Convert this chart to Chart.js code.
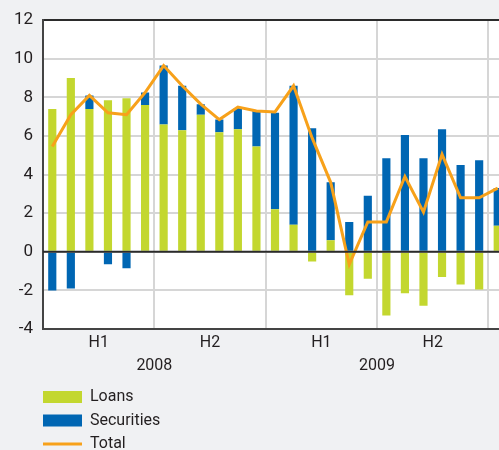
<!DOCTYPE html>
<html>
<head>
<meta charset="utf-8">
<title>Loans and securities</title>
<script src="https://cdn.jsdelivr.net/npm/chart.js@4/dist/chart.umd.min.js"></script>
<style>
  html, body { margin: 0; padding: 0; background: #f0f1f3; overflow: hidden; }
  #wrap { width: 540px; height: 450px; }
</style>
</head>
<body>
<div id="wrap"><canvas id="flowChart"></canvas></div>
<script>
const months = [
  'Jan 08', 'Feb 08', 'Mar 08', 'Apr 08', 'May 08', 'Jun 08',
  'Jul 08', 'Aug 08', 'Sep 08', 'Oct 08', 'Nov 08', 'Dec 08',
  'Jan 09', 'Feb 09', 'Mar 09', 'Apr 09', 'May 09', 'Jun 09',
  'Jul 09', 'Aug 09', 'Sep 09', 'Oct 09', 'Nov 09', 'Dec 09',
  'Jan 10'
];
const halfYears = ['H1', 'H2', 'H1', 'H2'];
const years = ['2008', '2009'];

const loans = [7.4, 9.0, 7.4, 7.85, 7.95, 7.6, 6.6, 6.3, 7.1, 6.2, 6.35, 5.45,
               2.2, 1.4, -0.5, 0.6, -2.25, -1.4, -3.3, -2.15, -2.8, -1.3, -1.7, -1.95, 1.35];
const securities = [-2.0, -1.9, 0.7, -0.65, -0.85, 0.65, 3.05, 2.3, 0.55, 0.65, 1.1, 1.85,
                    5.0, 7.2, 6.4, 3.0, 1.55, 2.9, 4.85, 6.05, 4.85, 6.35, 4.5, 4.75, 1.95];
const total = [5.45, 7.1, 8.1, 7.2, 7.1, 8.25, 9.65, 8.6, 7.65, 6.85, 7.5, 7.3,
               7.25, 8.6, 5.9, 3.6, -0.65, 1.55, 1.55, 3.9, 2.05, 5.05, 2.8, 2.8, 3.3];

const FONT = 'Roboto, "Liberation Sans", sans-serif';
const INK = '#231f20';

// white plot area, zero line on top of the bars, period labels and legend
const decorations = {
  id: 'decorations',
  beforeDraw(chart) {
    const { ctx, chartArea: a } = chart;
    ctx.save();
    ctx.fillStyle = '#ffffff';
    ctx.fillRect(a.left, a.top, a.right - a.left, a.bottom - a.top);
    ctx.restore();
  },
  afterDatasetsDraw(chart) {
    const { ctx, chartArea: a } = chart;
    const y0 = chart.scales.y.getPixelForValue(0);
    ctx.save();
    ctx.strokeStyle = '#2b2b2b';
    ctx.lineWidth = 2;
    ctx.beginPath();
    ctx.moveTo(a.left, y0);
    ctx.lineTo(a.right, y0);
    ctx.stroke();
    ctx.restore();
  },
  afterDraw(chart) {
    const { ctx, chartArea: a } = chart;
    const x = chart.scales.x;
    ctx.save();
    ctx.fillStyle = INK;
    ctx.font = '16px ' + FONT;
    ctx.textAlign = 'center';
    ctx.textBaseline = 'middle';
    halfYears.forEach((h, i) => {
      ctx.fillText(h, x.getPixelForValue(i * 6 + 2.5), a.bottom + 14);
    });
    years.forEach((yr, i) => {
      ctx.fillText(yr, x.getPixelForValue(i * 12 + 5.5), a.bottom + 37);
    });

    // legend, one entry per row
    ctx.textAlign = 'left';
    chart.data.datasets.forEach((ds, i) => {
      const cy = a.bottom + 68 + i * 23.5;
      if (ds.type === 'line') {
        ctx.strokeStyle = ds.borderColor;
        ctx.lineWidth = 3;
        ctx.beginPath();
        ctx.moveTo(43, cy);
        ctx.lineTo(82, cy);
        ctx.stroke();
      } else {
        ctx.fillStyle = ds.backgroundColor;
        ctx.fillRect(43, cy - 6, 39, 12);
      }
      ctx.fillStyle = INK;
      ctx.fillText(ds.label, 90, cy);
    });
    ctx.restore();
  }
};

new Chart(document.getElementById('flowChart'), {
  data: {
    labels: months,
    datasets: [
      {
        type: 'bar',
        label: 'Loans',
        data: loans,
        backgroundColor: '#c3d72f',
        stack: 'flows',
        order: 1
      },
      {
        type: 'bar',
        label: 'Securities',
        data: securities,
        backgroundColor: '#0066b3',
        stack: 'flows',
        order: 1
      },
      {
        type: 'line',
        label: 'Total',
        data: total,
        borderColor: '#f7a11a',
        borderWidth: 3,
        pointRadius: 0,
        tension: 0,
        order: 0
      }
    ]
  },
  options: {
    responsive: true,
    maintainAspectRatio: false,
    animation: false,
    layout: { padding: { top: 20, right: 33, left: 0, bottom: 0 } },
    datasets: {
      bar: { categoryPercentage: 1, barPercentage: 0.44 }
    },
    plugins: {
      legend: { display: false },
      tooltip: { enabled: false }
    },
    scales: {
      x: {
        stacked: true,
        grid: {
          offset: true,
          drawTicks: false,
          lineWidth: 2,
          color: (c) => (c.index > 0 && c.index % 6 === 0) ? '#d6d6d6' : 'rgba(0,0,0,0)'
        },
        border: { color: '#444', width: 2 },
        ticks: { display: false },
        afterFit: (s) => { s.height = 121; }
      },
      y: {
        stacked: true,
        min: -4,
        max: 12,
        ticks: {
          stepSize: 2,
          padding: 10,
          color: INK,
          font: { family: FONT, size: 17 }
        },
        grid: {
          drawTicks: false,
          lineWidth: 2,
          color: (c) => (c.tick.value === 12 ? '#2b2b2b' : '#d6d6d6')
        },
        border: { color: '#444', width: 2 },
        afterFit: (s) => { s.width = 43; }
      }
    }
  },
  plugins: [decorations]
});
</script>
</body>
</html>
